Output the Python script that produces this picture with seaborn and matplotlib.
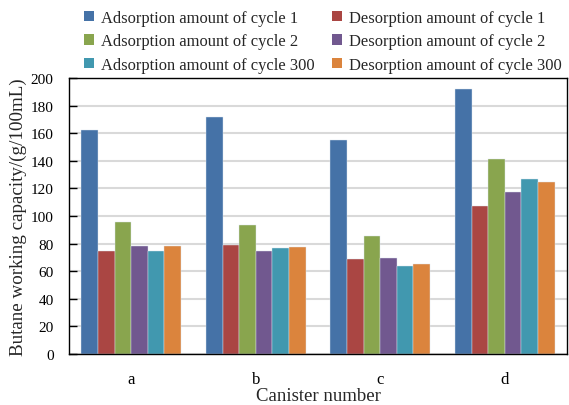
import matplotlib
matplotlib.use("Agg")
import matplotlib.pyplot as plt
import seaborn as sns
import pandas as pd

categories = ["a", "b", "c", "d"]
series_names = [
    "Adsorption amount of cycle 1",
    "Desorption amount of cycle 1",
    "Adsorption amount of cycle 2",
    "Desorption amount of cycle 2",
    "Adsorption amount of cycle 300",
    "Desorption amount of cycle 300",
]
ads1 = [162, 172, 155, 192]
des1 = [74.5, 79, 69, 107]
ads2 = [95.5, 93.5, 85.5, 141.5]
des2 = [78, 74.5, 69.5, 117.5]
ads300 = [74.5, 76.5, 63.5, 126.5]
des300 = [78, 77.5, 65, 124.5]
colors = ["#4572A7", "#AA4643", "#89A54E", "#71588F", "#4198AF", "#DB843D"]

values = [ads1, des1, ads2, des2, ads300, des300]
rows = []
for name, vals in zip(series_names, values):
    for c, v in zip(categories, vals):
        rows.append({"Canister": c, "Series": name, "Value": v})
df = pd.DataFrame(rows)

sns.set_theme(style="white")
plt.rcParams["font.family"] = ["Liberation Serif", "DejaVu Serif"]

fig = plt.figure(figsize=(5.69, 4.06), dpi=100)
ax = fig.add_axes([0.1213, 0.1256, 0.8752, 0.6798])

sns.barplot(data=df, x="Canister", y="Value", hue="Series", order=categories,
            hue_order=series_names, palette=colors, width=0.8, ax=ax,
            edgecolor="#dde6f0", linewidth=0.3, legend=False, saturation=1)

ax.set_ylim(0, 200)
ax.set_yticks(range(0, 201, 20))
ax.yaxis.grid(True, color="#d9d9d9", linewidth=1.5)
ax.set_axisbelow(True)
for s in ax.spines.values():
    s.set_color("black")
    s.set_linewidth(1.0)
ax.tick_params(axis="y", direction="in", length=6, width=1, color="black",
               labelsize=11, pad=11, left=True)
ax.tick_params(axis="x", length=0, labelsize=12, pad=12)
ax.set_xlabel("Canister number", fontsize=13.5, labelpad=0)
ax.set_ylabel("Butane working capacity/(g/100mL)", fontsize=13.7, labelpad=3)
for lab in ax.get_yticklabels() + ax.get_xticklabels():
    lab.set_color("black")

from matplotlib.patches import Patch
order = [0, 2, 4, 1, 3, 5]
handles = [Patch(facecolor=colors[i], edgecolor="none") for i in order]
labels = [series_names[i] for i in order]
fig.legend(handles, labels, ncol=2, frameon=False, fontsize=11.9,
           loc="upper left", bbox_to_anchor=(0.121, 1.01),
           handlelength=0.6, handleheight=0.6, handletextpad=0.42,
           columnspacing=1.1, labelspacing=0.46)

fig.savefig("out.png", dpi=100)
